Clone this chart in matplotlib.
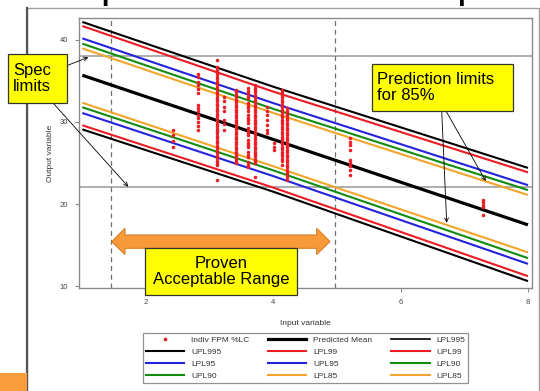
import matplotlib
matplotlib.use('Agg')
import matplotlib.pyplot as plt
from matplotlib.patches import Rectangle, Polygon
from matplotlib.lines import Line2D

# ---------------- data ----------------
x_grid = [1.0, 4.0, 8.0]
pred_mean = [35.7, 27.87, 17.46]
upl995 = [42.2, 34.3, 24.4]
upl99 = [41.7, 33.7, 23.86]
upl95 = [40.2, 32.3, 22.3]
upl90 = [39.55, 31.6, 21.7]
upl85 = [38.97, 31.1, 21.1]
lpl85 = [32.35, 24.6, 14.1]
lpl90 = [31.8, 24.1, 13.4]
lpl95 = [31.1, 23.4, 12.7]
lpl99 = [29.6, 22.0, 11.2]
lpl995 = [29.1, 21.5, 10.6]

spec_limits = [38.0, 22.1]
par_limits = [1.45, 4.97]

col_x = [2.42, 2.82, 3.12, 3.22, 3.42, 3.60, 3.71, 3.90, 4.01, 4.13, 4.21, 5.20, 7.30]
col_y = [
    [29.0, 28.4, 27.7, 26.9],
    [35.9, 35.5, 34.9, 34.5, 34.0, 33.5, 32.1, 31.7, 31.3, 30.9, 30.5, 30.0, 29.5, 29.0],
    [37.5, 36.7, 36.4, 36.1, 35.8, 35.5, 35.2, 34.9, 34.6, 34.3, 34.0, 33.7, 33.4, 33.1,
     32.8, 32.5, 32.2, 31.9, 31.6, 31.3, 31.0, 30.7, 30.4, 30.1, 29.8, 29.5, 29.2, 28.9,
     28.6, 28.3, 28.0, 27.7, 27.4, 27.1, 26.8, 26.5, 26.2, 25.9, 25.6, 25.3, 25.0, 24.8, 22.9],
    [33.0, 32.6, 31.8, 31.4, 30.2, 29.8, 29.0],
    [33.9, 33.6, 33.3, 33.0, 32.7, 32.4, 32.1, 31.8, 31.5, 31.2, 30.9, 30.6, 30.3, 30.0,
     29.7, 29.4, 29.1, 28.8, 28.5, 28.2, 27.9, 27.6, 27.3, 27.0, 26.7, 26.4, 26.1, 25.8,
     25.5, 25.2, 25.0],
    [34.1, 33.8, 33.5, 33.2, 32.9, 32.3, 32.0, 31.7, 31.4, 30.8, 30.5, 30.2, 29.9, 29.3,
     29.0, 28.7, 28.4, 27.8, 27.5, 27.2, 26.9, 26.3, 26.0, 25.7, 25.1, 24.8, 24.5],
    [34.5, 34.2, 33.9, 33.6, 33.3, 33.0, 32.7, 32.4, 32.1, 31.8, 31.5, 31.2, 30.9, 30.6,
     30.3, 30.0, 29.7, 29.4, 29.1, 28.8, 28.5, 28.2, 27.9, 27.6, 27.3, 27.0, 26.7, 26.4,
     26.1, 25.8, 25.5, 25.2, 25.0, 23.3],
    [31.8, 31.3, 30.8, 30.2, 29.6, 29.0, 28.6],
    [27.4, 27.0, 26.6],
    [33.9, 33.6, 33.3, 33.0, 32.7, 32.4, 32.1, 31.8, 31.5, 31.2, 30.9, 30.6, 30.3, 30.0,
     29.7, 29.4, 29.1, 28.8, 28.5, 28.2, 27.9, 27.6, 27.3, 27.0, 26.7, 26.4, 26.1, 25.8,
     25.5, 25.2, 24.8],
    [31.7, 31.4, 31.1, 30.8, 30.5, 30.2, 29.9, 29.6, 29.3, 29.0, 28.7, 28.4, 28.1, 27.8,
     27.5, 27.2, 26.9, 26.6, 26.3, 26.0, 25.7, 25.4, 25.1, 24.8, 24.5, 24.2, 23.9, 23.6,
     23.3, 22.9],
    [28.0, 27.6, 27.2, 26.6, 25.4, 25.0, 24.6, 24.1, 23.5],
    [20.5, 20.2, 19.9, 19.6, 18.7],
]

x_ticks = [2, 4, 6, 8]
y_ticks = [10, 20, 30, 40]
legend_labels = ['Indiv FPM %LC', 'Predicted Mean', 'LPL995', 'UPL995', 'LPL99', 'UPL99',
                 'LPL95', 'UPL95', 'LPL90', 'UPL90', 'LPL85', 'UPL85']

# ---------------- style ----------------
RED = '#ec1c24'
BLUE = '#2323dc'
GREEN = '#118c11'
ORANGE = '#f2a52c'
BLACK = '#000000'

W, H = 540, 391
fig = plt.figure(figsize=(W / 100, H / 100), dpi=100)
plt.rcParams['font.family'] = ['Liberation Sans', 'DejaVu Sans']


def fx(x):
    return x / W


def fy(y):
    return 1 - y / H


# outer slide frame
fig.add_artist(Rectangle((fx(27), fy(395)), fx(539) - fx(27), fy(8) - fy(395),
                         transform=fig.transFigure, facecolor='white',
                         edgecolor='#a0a0a0', lw=1.0, zorder=0))
fig.add_artist(Line2D([fx(27), fx(27)], [fy(8), 0], transform=fig.transFigure,
                      color='#555555', lw=1.6, zorder=1))
# orange corner block
fig.add_artist(Rectangle((0, 0), fx(26.5), fy(372.5), transform=fig.transFigure,
                         facecolor='#f99d3d', edgecolor='none', zorder=1))
# title of the slide, cut off by the top edge as in the reference
fig.text(fx(265), fy(0.5), 'Example of Statistical Model Output', ha='center', va='baseline',
         fontsize=20, fontweight='bold', color='black')

ax = fig.add_axes([fx(79), fy(288), fx(532) - fx(79), fy(18) - fy(288)])
ax.set_xlim(0.948, 8.063)
ax.set_ylim(9.76, 42.68)

band_lw = 1.5
series = [
    (upl995, BLACK), (lpl995, BLACK),
    (upl99, RED), (lpl99, RED),
    (upl95, BLUE), (lpl95, BLUE),
    (upl90, GREEN), (lpl90, GREEN),
    (upl85, ORANGE), (lpl85, ORANGE),
]
for ys, c in series:
    ax.plot(x_grid, ys, color=c, lw=band_lw, zorder=3, solid_capstyle='butt')
ax.plot(x_grid, pred_mean, color=BLACK, lw=2.3, zorder=3, solid_capstyle='butt')

for s in spec_limits:
    ax.axhline(s, color='#a8a8a8', lw=1.3, zorder=2)
for p in par_limits:
    ax.axvline(p, color='#707070', lw=0.9, ls=(0, (4, 3)), zorder=2)

for cx, ys in zip(col_x, col_y):
    ax.scatter([cx] * len(ys), ys, s=6.5, color=RED, marker='o', linewidths=0, zorder=4)

for sp in ax.spines.values():
    sp.set_color('#8a8a8a')
    sp.set_linewidth(1.0)
ax.set_xticks(x_ticks)
ax.set_yticks(y_ticks)
ax.tick_params(colors='#8a8a8a', labelcolor='#444444', labelsize=5.5, length=3, width=0.8, pad=5)
ax.set_xlabel('Input variable', fontsize=6, color='#333333', labelpad=10)
ax.set_ylabel('Output variable', fontsize=6, color='#333333', labelpad=4)

# legend
handles = [
    Line2D([], [], color=RED, marker='o', markersize=1.6, lw=0),
    Line2D([], [], color=BLACK, lw=2.3),
    Line2D([], [], color=BLACK, lw=1.2),
    Line2D([], [], color=BLACK, lw=1.5),
    Line2D([], [], color=RED, lw=1.5),
    Line2D([], [], color=RED, lw=1.5),
    Line2D([], [], color=BLUE, lw=1.5),
    Line2D([], [], color=BLUE, lw=1.5),
    Line2D([], [], color=GREEN, lw=1.5),
    Line2D([], [], color=GREEN, lw=1.5),
    Line2D([], [], color=ORANGE, lw=1.5),
    Line2D([], [], color=ORANGE, lw=1.5),
]
order = [0, 3, 6, 9, 1, 4, 7, 10, 2, 5, 8, 11]
leg = fig.legend([handles[i] for i in order], [legend_labels[i] for i in order],
                 loc='lower left',
                 bbox_to_anchor=(fx(143), fy(383), fx(468) - fx(143), fy(332) - fy(383)),
                 bbox_transform=fig.transFigure, mode='expand', ncol=3, fontsize=6,
                 handlelength=4.6, handletextpad=0.8, columnspacing=0.6,
                 labelspacing=0.5, borderpad=0.35, borderaxespad=0, frameon=True,
                 fancybox=False, edgecolor='#777777', labelcolor='#333333')
leg.get_frame().set_linewidth(0.9)

# orange double arrow (Proven Acceptable Range)
arrow_pts = [(111.7, 241.7), (125, 228.3), (125, 235), (316.7, 235), (316.7, 228.3),
             (330, 241.5), (316.7, 254.5), (316.7, 248.3), (125, 248.3), (125, 254.5)]
fig.add_artist(Polygon([(fx(a), fy(b)) for a, b in arrow_pts], closed=True,
                       transform=fig.transFigure, facecolor='#f89a3a',
                       edgecolor='#d97f25', lw=0.8, zorder=5))


def yellow_box(x0, y0, x1, y1):
    fig.add_artist(Rectangle((fx(x0), fy(y1)), fx(x1) - fx(x0), fy(y0) - fy(y1),
                             transform=fig.transFigure, facecolor='#ffff00',
                             edgecolor='#333333', lw=0.9, zorder=6))


yellow_box(145, 248.3, 296.7, 295)
fig.text(fx(221), fy(271.5), 'Proven\nAcceptable Range', ha='center', va='center',
         fontsize=12, linespacing=1.15, zorder=7)

yellow_box(8, 54.3, 66.7, 102.7)
fig.text(fx(13), fy(78.5), 'Spec\nlimits', ha='left', va='center',
         fontsize=12, linespacing=1.15, zorder=7)

yellow_box(372.3, 64.3, 513.3, 110.7)
fig.text(fx(377), fy(87.5), 'Prediction limits\nfor 85%', ha='left', va='center',
         fontsize=12, linespacing=1.15, zorder=7)


def pointer(x0, y0, x1, y1):
    ax.annotate('', xy=(fx(x1), fy(y1)), xytext=(fx(x0), fy(y0)),
                xycoords='figure fraction', textcoords='figure fraction',
                arrowprops=dict(arrowstyle='->', color='black', lw=0.6,
                                shrinkA=0, shrinkB=0, mutation_scale=7),
                zorder=5, annotation_clip=False)


pointer(66.7, 65.7, 88.3, 57.3)
pointer(53.3, 103.3, 128.3, 186.7)
pointer(441.7, 111, 446.7, 222.7)
pointer(446, 111, 485.7, 181)

fig.savefig('out.png', dpi=100)
